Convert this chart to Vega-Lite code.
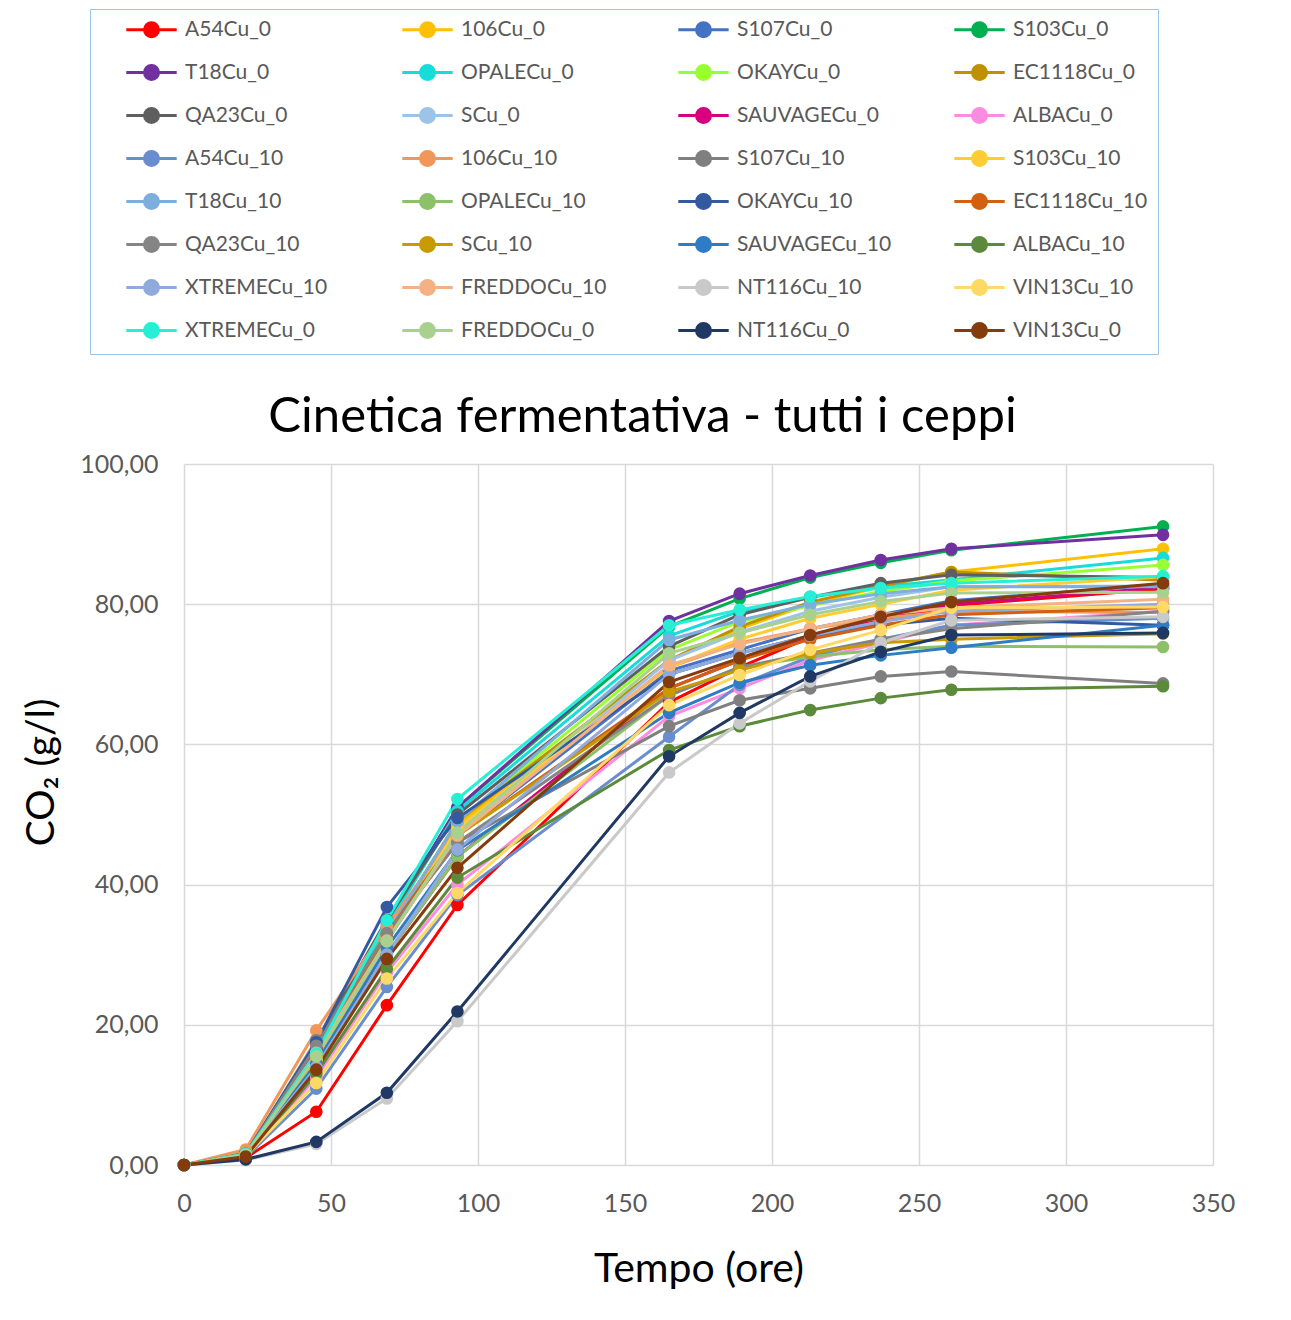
{
  "$schema": "https://vega.github.io/schema/vega-lite/v6.json",
  "width": 1029,
  "height": 701,
  "autosize": "none",
  "padding": {"left": 184, "top": 464, "right": 78, "bottom": 155},
  "background": "white",
  "config": {
    "view": {"stroke": null},
    "font": "Lato",
    "axis": {"labelFont": "Lato", "titleFont": "Lato", "labelColor": "#595959", "titleColor": "#000000", "labelFontSize": 25, "titleFontSize": 39, "titleFontWeight": "normal", "gridColor": "#D9D9D9", "gridWidth": 1.5, "domain": false, "ticks": false, "labelFlush": false}
  },
  "title": {"text": "Cinetica fermentativa - tutti i ceppi", "font": "Lato", "fontSize": 49, "fontWeight": "normal", "color": "#000000", "anchor": "middle", "dx": -56, "offset": -433},
  "data": {"values": [
{"s":"A54Cu_0","t":0,"v":0},{"s":"A54Cu_0","t":21,"v":1.0},{"s":"A54Cu_0","t":45,"v":7.6},{"s":"A54Cu_0","t":69,"v":22.8},{"s":"A54Cu_0","t":93,"v":37.1},{"s":"A54Cu_0","t":165,"v":66},{"s":"A54Cu_0","t":189,"v":71},{"s":"A54Cu_0","t":213,"v":75.3},{"s":"A54Cu_0","t":237,"v":77.5},{"s":"A54Cu_0","t":261,"v":79.8},{"s":"A54Cu_0","t":333,"v":82.2},
{"s":"106Cu_0","t":0,"v":0},{"s":"106Cu_0","t":21,"v":1.4},{"s":"106Cu_0","t":45,"v":15},{"s":"106Cu_0","t":69,"v":32},{"s":"106Cu_0","t":93,"v":48.5},{"s":"106Cu_0","t":165,"v":72},{"s":"106Cu_0","t":189,"v":76.5},{"s":"106Cu_0","t":213,"v":80},{"s":"106Cu_0","t":237,"v":82.5},{"s":"106Cu_0","t":261,"v":84.6},{"s":"106Cu_0","t":333,"v":87.9},
{"s":"S107Cu_0","t":0,"v":0},{"s":"S107Cu_0","t":21,"v":1.5},{"s":"S107Cu_0","t":45,"v":16},{"s":"S107Cu_0","t":69,"v":33},{"s":"S107Cu_0","t":93,"v":47},{"s":"S107Cu_0","t":165,"v":70.5},{"s":"S107Cu_0","t":189,"v":73.5},{"s":"S107Cu_0","t":213,"v":76.5},{"s":"S107Cu_0","t":237,"v":78.5},{"s":"S107Cu_0","t":261,"v":80.5},{"s":"S107Cu_0","t":333,"v":82.8},
{"s":"S103Cu_0","t":0,"v":0},{"s":"S103Cu_0","t":21,"v":1.7},{"s":"S103Cu_0","t":45,"v":16.5},{"s":"S103Cu_0","t":69,"v":34},{"s":"S103Cu_0","t":93,"v":51},{"s":"S103Cu_0","t":165,"v":76.8},{"s":"S103Cu_0","t":189,"v":80.8},{"s":"S103Cu_0","t":213,"v":83.8},{"s":"S103Cu_0","t":237,"v":85.9},{"s":"S103Cu_0","t":261,"v":87.7},{"s":"S103Cu_0","t":333,"v":91.1},
{"s":"T18Cu_0","t":0,"v":0},{"s":"T18Cu_0","t":21,"v":1.7},{"s":"T18Cu_0","t":45,"v":16.5},{"s":"T18Cu_0","t":69,"v":34.5},{"s":"T18Cu_0","t":93,"v":51},{"s":"T18Cu_0","t":165,"v":77.6},{"s":"T18Cu_0","t":189,"v":81.5},{"s":"T18Cu_0","t":213,"v":84.1},{"s":"T18Cu_0","t":237,"v":86.3},{"s":"T18Cu_0","t":261,"v":87.9},{"s":"T18Cu_0","t":333,"v":89.9},
{"s":"OPALECu_0","t":0,"v":0},{"s":"OPALECu_0","t":21,"v":1.6},{"s":"OPALECu_0","t":45,"v":16},{"s":"OPALECu_0","t":69,"v":34},{"s":"OPALECu_0","t":93,"v":50.5},{"s":"OPALECu_0","t":165,"v":75.5},{"s":"OPALECu_0","t":189,"v":79},{"s":"OPALECu_0","t":213,"v":81},{"s":"OPALECu_0","t":237,"v":82.5},{"s":"OPALECu_0","t":261,"v":83.5},{"s":"OPALECu_0","t":333,"v":86.6},
{"s":"OKAYCu_0","t":0,"v":0},{"s":"OKAYCu_0","t":21,"v":1.5},{"s":"OKAYCu_0","t":45,"v":15.5},{"s":"OKAYCu_0","t":69,"v":33},{"s":"OKAYCu_0","t":93,"v":49},{"s":"OKAYCu_0","t":165,"v":73.5},{"s":"OKAYCu_0","t":189,"v":77.5},{"s":"OKAYCu_0","t":213,"v":79.8},{"s":"OKAYCu_0","t":237,"v":81.8},{"s":"OKAYCu_0","t":261,"v":83.3},{"s":"OKAYCu_0","t":333,"v":85.6},
{"s":"EC1118Cu_0","t":0,"v":0},{"s":"EC1118Cu_0","t":21,"v":1.5},{"s":"EC1118Cu_0","t":45,"v":15.5},{"s":"EC1118Cu_0","t":69,"v":33},{"s":"EC1118Cu_0","t":93,"v":49},{"s":"EC1118Cu_0","t":165,"v":72},{"s":"EC1118Cu_0","t":189,"v":76.8},{"s":"EC1118Cu_0","t":213,"v":80.3},{"s":"EC1118Cu_0","t":237,"v":82.6},{"s":"EC1118Cu_0","t":261,"v":84.6},{"s":"EC1118Cu_0","t":333,"v":83.4},
{"s":"QA23Cu_0","t":0,"v":0},{"s":"QA23Cu_0","t":21,"v":1.6},{"s":"QA23Cu_0","t":45,"v":17.5},{"s":"QA23Cu_0","t":69,"v":35},{"s":"QA23Cu_0","t":93,"v":50},{"s":"QA23Cu_0","t":165,"v":74},{"s":"QA23Cu_0","t":189,"v":78.5},{"s":"QA23Cu_0","t":213,"v":81},{"s":"QA23Cu_0","t":237,"v":83},{"s":"QA23Cu_0","t":261,"v":84.2},{"s":"QA23Cu_0","t":333,"v":83.8},
{"s":"SCu_0","t":0,"v":0},{"s":"SCu_0","t":21,"v":1.4},{"s":"SCu_0","t":45,"v":15},{"s":"SCu_0","t":69,"v":32},{"s":"SCu_0","t":93,"v":47},{"s":"SCu_0","t":165,"v":72},{"s":"SCu_0","t":189,"v":76},{"s":"SCu_0","t":213,"v":79},{"s":"SCu_0","t":237,"v":81},{"s":"SCu_0","t":261,"v":82.5},{"s":"SCu_0","t":333,"v":82.6},
{"s":"SAUVAGECu_0","t":0,"v":0},{"s":"SAUVAGECu_0","t":21,"v":1.3},{"s":"SAUVAGECu_0","t":45,"v":14},{"s":"SAUVAGECu_0","t":69,"v":30},{"s":"SAUVAGECu_0","t":93,"v":44},{"s":"SAUVAGECu_0","t":165,"v":68},{"s":"SAUVAGECu_0","t":189,"v":72},{"s":"SAUVAGECu_0","t":213,"v":75.5},{"s":"SAUVAGECu_0","t":237,"v":78},{"s":"SAUVAGECu_0","t":261,"v":80},{"s":"SAUVAGECu_0","t":333,"v":82.4},
{"s":"ALBACu_0","t":0,"v":0},{"s":"ALBACu_0","t":21,"v":1.2},{"s":"ALBACu_0","t":45,"v":12.5},{"s":"ALBACu_0","t":69,"v":27.5},{"s":"ALBACu_0","t":93,"v":40},{"s":"ALBACu_0","t":165,"v":64},{"s":"ALBACu_0","t":189,"v":68},{"s":"ALBACu_0","t":213,"v":72},{"s":"ALBACu_0","t":237,"v":74.5},{"s":"ALBACu_0","t":261,"v":77},{"s":"ALBACu_0","t":333,"v":79},
{"s":"A54Cu_10","t":0,"v":0},{"s":"A54Cu_10","t":21,"v":1.1},{"s":"A54Cu_10","t":45,"v":10.9},{"s":"A54Cu_10","t":69,"v":25.4},{"s":"A54Cu_10","t":93,"v":38.5},{"s":"A54Cu_10","t":165,"v":61.1},{"s":"A54Cu_10","t":189,"v":68.5},{"s":"A54Cu_10","t":213,"v":72.5},{"s":"A54Cu_10","t":237,"v":75},{"s":"A54Cu_10","t":261,"v":77},{"s":"A54Cu_10","t":333,"v":78},
{"s":"106Cu_10","t":0,"v":0},{"s":"106Cu_10","t":21,"v":2.2},{"s":"106Cu_10","t":45,"v":19.2},{"s":"106Cu_10","t":69,"v":34},{"s":"106Cu_10","t":93,"v":48},{"s":"106Cu_10","t":165,"v":71},{"s":"106Cu_10","t":189,"v":74.5},{"s":"106Cu_10","t":213,"v":76.5},{"s":"106Cu_10","t":237,"v":78},{"s":"106Cu_10","t":261,"v":79},{"s":"106Cu_10","t":333,"v":78.8},
{"s":"S107Cu_10","t":0,"v":0},{"s":"S107Cu_10","t":21,"v":1.5},{"s":"S107Cu_10","t":45,"v":17.8},{"s":"S107Cu_10","t":69,"v":33},{"s":"S107Cu_10","t":93,"v":46},{"s":"S107Cu_10","t":165,"v":62.6},{"s":"S107Cu_10","t":189,"v":66.3},{"s":"S107Cu_10","t":213,"v":68},{"s":"S107Cu_10","t":237,"v":69.7},{"s":"S107Cu_10","t":261,"v":70.4},{"s":"S107Cu_10","t":333,"v":68.7},
{"s":"S103Cu_10","t":0,"v":0},{"s":"S103Cu_10","t":21,"v":1.4},{"s":"S103Cu_10","t":45,"v":15},{"s":"S103Cu_10","t":69,"v":32},{"s":"S103Cu_10","t":93,"v":48},{"s":"S103Cu_10","t":165,"v":71},{"s":"S103Cu_10","t":189,"v":75},{"s":"S103Cu_10","t":213,"v":78},{"s":"S103Cu_10","t":237,"v":80},{"s":"S103Cu_10","t":261,"v":82},{"s":"S103Cu_10","t":333,"v":83.9},
{"s":"T18Cu_10","t":0,"v":0},{"s":"T18Cu_10","t":21,"v":1.5},{"s":"T18Cu_10","t":45,"v":16},{"s":"T18Cu_10","t":69,"v":33},{"s":"T18Cu_10","t":93,"v":49},{"s":"T18Cu_10","t":165,"v":74.9},{"s":"T18Cu_10","t":189,"v":77.7},{"s":"T18Cu_10","t":213,"v":80},{"s":"T18Cu_10","t":237,"v":81.5},{"s":"T18Cu_10","t":261,"v":82.5},{"s":"T18Cu_10","t":333,"v":82.5},
{"s":"OPALECu_10","t":0,"v":0},{"s":"OPALECu_10","t":21,"v":1.3},{"s":"OPALECu_10","t":45,"v":14},{"s":"OPALECu_10","t":69,"v":30},{"s":"OPALECu_10","t":93,"v":44},{"s":"OPALECu_10","t":165,"v":67},{"s":"OPALECu_10","t":189,"v":71},{"s":"OPALECu_10","t":213,"v":72.5},{"s":"OPALECu_10","t":237,"v":73.5},{"s":"OPALECu_10","t":261,"v":74},{"s":"OPALECu_10","t":333,"v":73.9},
{"s":"OKAYCu_10","t":0,"v":0},{"s":"OKAYCu_10","t":21,"v":1.6},{"s":"OKAYCu_10","t":45,"v":17.5},{"s":"OKAYCu_10","t":69,"v":36.8},{"s":"OKAYCu_10","t":93,"v":49.5},{"s":"OKAYCu_10","t":165,"v":70},{"s":"OKAYCu_10","t":189,"v":73},{"s":"OKAYCu_10","t":213,"v":75.5},{"s":"OKAYCu_10","t":237,"v":77},{"s":"OKAYCu_10","t":261,"v":78},{"s":"OKAYCu_10","t":333,"v":77},
{"s":"EC1118Cu_10","t":0,"v":0},{"s":"EC1118Cu_10","t":21,"v":1.5},{"s":"EC1118Cu_10","t":45,"v":15.5},{"s":"EC1118Cu_10","t":69,"v":33},{"s":"EC1118Cu_10","t":93,"v":47},{"s":"EC1118Cu_10","t":165,"v":68},{"s":"EC1118Cu_10","t":189,"v":72},{"s":"EC1118Cu_10","t":213,"v":75},{"s":"EC1118Cu_10","t":237,"v":77},{"s":"EC1118Cu_10","t":261,"v":78.5},{"s":"EC1118Cu_10","t":333,"v":79.5},
{"s":"QA23Cu_10","t":0,"v":0},{"s":"QA23Cu_10","t":21,"v":1.6},{"s":"QA23Cu_10","t":45,"v":17},{"s":"QA23Cu_10","t":69,"v":33},{"s":"QA23Cu_10","t":93,"v":46},{"s":"QA23Cu_10","t":165,"v":67},{"s":"QA23Cu_10","t":189,"v":71},{"s":"QA23Cu_10","t":213,"v":73},{"s":"QA23Cu_10","t":237,"v":75},{"s":"QA23Cu_10","t":261,"v":76.5},{"s":"QA23Cu_10","t":333,"v":79},
{"s":"SCu_10","t":0,"v":0},{"s":"SCu_10","t":21,"v":1.5},{"s":"SCu_10","t":45,"v":15.5},{"s":"SCu_10","t":69,"v":32},{"s":"SCu_10","t":93,"v":47},{"s":"SCu_10","t":165,"v":67.5},{"s":"SCu_10","t":189,"v":70.6},{"s":"SCu_10","t":213,"v":73},{"s":"SCu_10","t":237,"v":74.5},{"s":"SCu_10","t":261,"v":75},{"s":"SCu_10","t":333,"v":75.8},
{"s":"SAUVAGECu_10","t":0,"v":0},{"s":"SAUVAGECu_10","t":21,"v":1.4},{"s":"SAUVAGECu_10","t":45,"v":14.5},{"s":"SAUVAGECu_10","t":69,"v":31},{"s":"SAUVAGECu_10","t":93,"v":44.9},{"s":"SAUVAGECu_10","t":165,"v":64.5},{"s":"SAUVAGECu_10","t":189,"v":68.8},{"s":"SAUVAGECu_10","t":213,"v":71.3},{"s":"SAUVAGECu_10","t":237,"v":72.7},{"s":"SAUVAGECu_10","t":261,"v":73.8},{"s":"SAUVAGECu_10","t":333,"v":77},
{"s":"ALBACu_10","t":0,"v":0},{"s":"ALBACu_10","t":21,"v":1.2},{"s":"ALBACu_10","t":45,"v":13},{"s":"ALBACu_10","t":69,"v":28},{"s":"ALBACu_10","t":93,"v":41},{"s":"ALBACu_10","t":165,"v":59.2},{"s":"ALBACu_10","t":189,"v":62.6},{"s":"ALBACu_10","t":213,"v":64.9},{"s":"ALBACu_10","t":237,"v":66.6},{"s":"ALBACu_10","t":261,"v":67.8},{"s":"ALBACu_10","t":333,"v":68.3},
{"s":"XTREMECu_10","t":0,"v":0},{"s":"XTREMECu_10","t":21,"v":1.4},{"s":"XTREMECu_10","t":45,"v":14},{"s":"XTREMECu_10","t":69,"v":30},{"s":"XTREMECu_10","t":93,"v":45},{"s":"XTREMECu_10","t":165,"v":70},{"s":"XTREMECu_10","t":189,"v":73},{"s":"XTREMECu_10","t":213,"v":75.5},{"s":"XTREMECu_10","t":237,"v":77.5},{"s":"XTREMECu_10","t":261,"v":79},{"s":"XTREMECu_10","t":333,"v":80},
{"s":"FREDDOCu_10","t":0,"v":0},{"s":"FREDDOCu_10","t":21,"v":1.5},{"s":"FREDDOCu_10","t":45,"v":16},{"s":"FREDDOCu_10","t":69,"v":32},{"s":"FREDDOCu_10","t":93,"v":47},{"s":"FREDDOCu_10","t":165,"v":71.3},{"s":"FREDDOCu_10","t":189,"v":74.3},{"s":"FREDDOCu_10","t":213,"v":76.5},{"s":"FREDDOCu_10","t":237,"v":78.5},{"s":"FREDDOCu_10","t":261,"v":79.5},{"s":"FREDDOCu_10","t":333,"v":80.7},
{"s":"NT116Cu_10","t":0,"v":0},{"s":"NT116Cu_10","t":21,"v":0.7},{"s":"NT116Cu_10","t":45,"v":3.0},{"s":"NT116Cu_10","t":69,"v":9.5},{"s":"NT116Cu_10","t":93,"v":20.5},{"s":"NT116Cu_10","t":165,"v":56},{"s":"NT116Cu_10","t":189,"v":63},{"s":"NT116Cu_10","t":213,"v":69},{"s":"NT116Cu_10","t":237,"v":74.5},{"s":"NT116Cu_10","t":261,"v":77.7},{"s":"NT116Cu_10","t":333,"v":78.2},
{"s":"VIN13Cu_10","t":0,"v":0},{"s":"VIN13Cu_10","t":21,"v":1.3},{"s":"VIN13Cu_10","t":45,"v":11.7},{"s":"VIN13Cu_10","t":69,"v":26.6},{"s":"VIN13Cu_10","t":93,"v":38.8},{"s":"VIN13Cu_10","t":165,"v":65.6},{"s":"VIN13Cu_10","t":189,"v":69.9},{"s":"VIN13Cu_10","t":213,"v":73.5},{"s":"VIN13Cu_10","t":237,"v":76.3},{"s":"VIN13Cu_10","t":261,"v":79.5},{"s":"VIN13Cu_10","t":333,"v":79.6},
{"s":"XTREMECu_0","t":0,"v":0},{"s":"XTREMECu_0","t":21,"v":1.6},{"s":"XTREMECu_0","t":45,"v":15.9},{"s":"XTREMECu_0","t":69,"v":34.9},{"s":"XTREMECu_0","t":93,"v":52.2},{"s":"XTREMECu_0","t":165,"v":77},{"s":"XTREMECu_0","t":189,"v":79.2},{"s":"XTREMECu_0","t":213,"v":81.1},{"s":"XTREMECu_0","t":237,"v":82.3},{"s":"XTREMECu_0","t":261,"v":83},{"s":"XTREMECu_0","t":333,"v":84},
{"s":"FREDDOCu_0","t":0,"v":0},{"s":"FREDDOCu_0","t":21,"v":1.5},{"s":"FREDDOCu_0","t":45,"v":15.5},{"s":"FREDDOCu_0","t":69,"v":31.9},{"s":"FREDDOCu_0","t":93,"v":47.4},{"s":"FREDDOCu_0","t":165,"v":73},{"s":"FREDDOCu_0","t":189,"v":75.9},{"s":"FREDDOCu_0","t":213,"v":78.5},{"s":"FREDDOCu_0","t":237,"v":80.4},{"s":"FREDDOCu_0","t":261,"v":81.6},{"s":"FREDDOCu_0","t":333,"v":81.7},
{"s":"NT116Cu_0","t":0,"v":0},{"s":"NT116Cu_0","t":21,"v":0.8},{"s":"NT116Cu_0","t":45,"v":3.3},{"s":"NT116Cu_0","t":69,"v":10.3},{"s":"NT116Cu_0","t":93,"v":21.9},{"s":"NT116Cu_0","t":165,"v":58.3},{"s":"NT116Cu_0","t":189,"v":64.5},{"s":"NT116Cu_0","t":213,"v":69.7},{"s":"NT116Cu_0","t":237,"v":73.2},{"s":"NT116Cu_0","t":261,"v":75.6},{"s":"NT116Cu_0","t":333,"v":75.9},
{"s":"VIN13Cu_0","t":0,"v":0},{"s":"VIN13Cu_0","t":21,"v":1.2},{"s":"VIN13Cu_0","t":45,"v":13.6},{"s":"VIN13Cu_0","t":69,"v":29.4},{"s":"VIN13Cu_0","t":93,"v":42.4},{"s":"VIN13Cu_0","t":165,"v":68.9},{"s":"VIN13Cu_0","t":189,"v":72.3},{"s":"VIN13Cu_0","t":213,"v":75.6},{"s":"VIN13Cu_0","t":237,"v":78.2},{"s":"VIN13Cu_0","t":261,"v":80.3},{"s":"VIN13Cu_0","t":333,"v":83.0}
  ]},
  "encoding": {
    "x": {"field": "t", "type": "quantitative", "scale": {"domain": [0, 350], "nice": false}, "axis": {"title": "Tempo (ore)", "titleFontSize": 41, "values": [0, 50, 100, 150, 200, 250, 300, 350], "labelPadding": 26, "titlePadding": 33}},
    "y": {"field": "v", "type": "quantitative", "scale": {"domain": [0, 100], "nice": false}, "axis": {"title": "CO₂ (g/l)", "titleY": 308, "values": [0, 20, 40, 60, 80, 100], "labelExpr": "replace(format(datum.value, '.2f'), '.', ',')", "labelPadding": 26, "titlePadding": 18}},
    "color": {"field": "s", "type": "nominal",
      "scale": {
        "domain": ["A54Cu_0","106Cu_0","S107Cu_0","S103Cu_0","T18Cu_0","OPALECu_0","OKAYCu_0","EC1118Cu_0","QA23Cu_0","SCu_0","SAUVAGECu_0","ALBACu_0","A54Cu_10","106Cu_10","S107Cu_10","S103Cu_10","T18Cu_10","OPALECu_10","OKAYCu_10","EC1118Cu_10","QA23Cu_10","SCu_10","SAUVAGECu_10","ALBACu_10","XTREMECu_10","FREDDOCu_10","NT116Cu_10","VIN13Cu_10","XTREMECu_0","FREDDOCu_0","NT116Cu_0","VIN13Cu_0"],
        "range": ["#FF0000","#FFC000","#4472C4","#00B050","#7030A0","#17DCD9","#99FF33","#BF9000","#5F5F5F","#9DC3E6","#D40080","#FF8BE0","#698ED0","#F1975A","#7F7F7F","#FFCD33","#7CAFDD","#8CC168","#335AA1","#D26012","#858585","#C99A00","#2E7CC4","#5B8B3A","#8FAADC","#F4B183","#C9C9C9","#FFD966","#26EFD6","#A9D18E","#203864","#843C0C"]
      },
      "legend": {
        "title": null, "orient": "none", "direction": "horizontal", "legendX": -94, "legendY": -455, "columns": 4, "symbolLimit": 40, "gridAlign": "all",
        "symbolType": "M-3.6,0H3.6M-1,0A1,1,0,1,0,1,0A1,1,0,1,0,-1,0",
        "symbolSize": 196, "symbolStrokeWidth": 3, "symbolOffset": 41, "labelOffset": 23,
        "labelFont": "Lato", "labelFontSize": 21, "labelColor": "#595959",
        "padding": 10, "rowPadding": 16, "columnPadding": 36,
        "strokeColor": "#9DC3E6", "fillColor": "white",
        "encode": {"symbols": {"update": {"fill": {"scale": "color", "field": "value"}, "stroke": {"scale": "color", "field": "value"}, "opacity": {"value": 1}}}}
      }
    }
  },
  "layer": [
    {"mark": {"type": "line", "strokeWidth": 3}},
    {"mark": {"type": "point", "filled": true, "size": 160, "opacity": 1}}
  ]
}
